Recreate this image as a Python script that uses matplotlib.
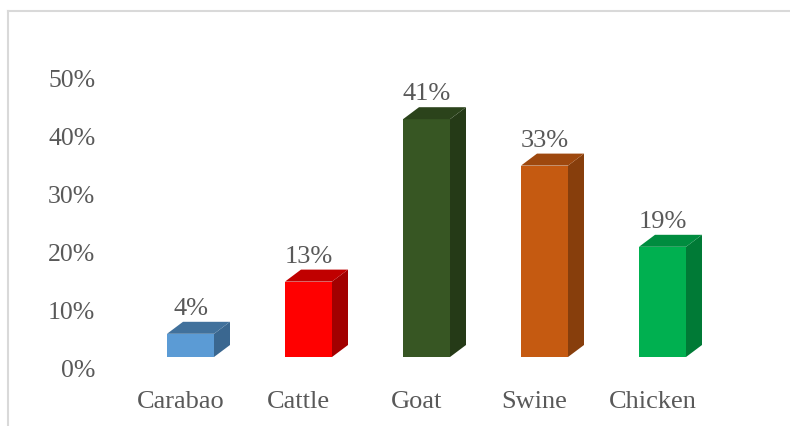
import matplotlib.pyplot as plt
import matplotlib.transforms as mtransforms
from matplotlib.patches import Polygon
from matplotlib.lines import Line2D

animals = ["Carabao", "Cattle", "Goat", "Swine", "Chicken"]
shares = [4, 13, 41, 33, 19]
y_ticks = [0, 10, 20, 30, 40, 50]
y_tick_labels = ["0%", "10%", "20%", "30%", "40%", "50%"]

# front / top / side shades for each bar
front_colors = ["#5B9BD5", "#FF0000", "#375623", "#C55A11", "#00B050"]
top_colors = ["#41719C", "#C00000", "#2B431B", "#9E480E", "#008C3F"]
side_colors = ["#3A6790", "#A20000", "#253A17", "#873E0C", "#007A36"]

plt.rcParams['font.family'] = ['Liberation Serif', 'DejaVu Serif']
text_color = "#595959"

fig = plt.figure(figsize=(7.9, 4.27), dpi=100)
ax = fig.add_axes([131.5 / 790, 69 / 427, 590 / 790, 319 / 427])
ax.set_xlim(-0.5, 4.5)
ax.set_ylim(0, 55)

bar_w = 47 / 118
depth_x = 16 / 118      # depth of the boxes in x units
depth_y = 12 / 5.8      # depth of the boxes in percent units

for i, v in enumerate(shares):
    x0 = i - bar_w / 2
    x1 = i + bar_w / 2
    ax.bar(i, v, width=bar_w, color=front_colors[i], linewidth=0, zorder=3)
    top = Polygon([(x0, v), (x1, v), (x1 + depth_x, v + depth_y), (x0 + depth_x, v + depth_y)],
                  closed=True, facecolor=top_colors[i], linewidth=0, zorder=3)
    side = Polygon([(x1, 0), (x1 + depth_x, depth_y), (x1 + depth_x, v + depth_y), (x1, v)],
                   closed=True, facecolor=side_colors[i], linewidth=0, zorder=2)
    ax.add_patch(top)
    ax.add_patch(side)
    ax.annotate(f"{v}%", (i, v + depth_y), xytext=(0, 2), textcoords='offset points',
                ha='center', va='bottom', fontsize=19, color=text_color)

ax.set_xticks(range(len(animals)))
ax.set_xticklabels(animals, fontsize=19, color=text_color)
ax.set_yticks(y_ticks)
ax.set_yticklabels(y_tick_labels, fontsize=18.5, color=text_color)
ax.tick_params(axis='x', length=0, pad=23.5)
ax.tick_params(axis='y', length=0, pad=26)

# labels sit a little off the bars, as on the back wall of a 3D chart
shift_x = mtransforms.ScaledTranslation(-10 / 100, 0, fig.dpi_scale_trans)
for lab in ax.get_xticklabels():
    lab.set_transform(lab.get_transform() + shift_x)
shift_y = mtransforms.ScaledTranslation(0, -11 / 100, fig.dpi_scale_trans)
for lab in ax.get_yticklabels():
    lab.set_transform(lab.get_transform() + shift_y)

for s in ax.spines.values():
    s.set_visible(False)
ax.patch.set_alpha(0)

# chart border (runs off the right and bottom edges)
bx = 7.5 / 790
by = 1 - 11.5 / 427
fig.add_artist(Line2D([bx, 1.01], [by, by], transform=fig.transFigure, color="#D9D9D9", linewidth=1.5))
fig.add_artist(Line2D([bx, bx], [-0.01, by], transform=fig.transFigure, color="#D9D9D9", linewidth=1.5))

fig.savefig("out.png", dpi=100)
